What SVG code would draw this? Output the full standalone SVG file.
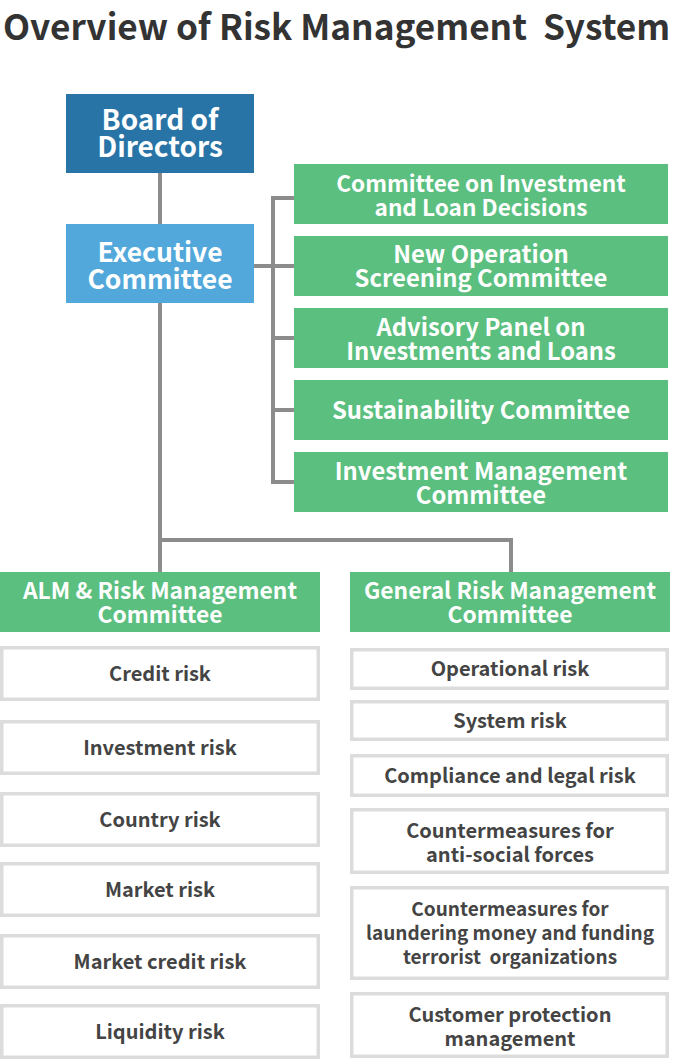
<svg xmlns="http://www.w3.org/2000/svg" width="674" height="1060" viewBox="0 0 674 1060">
<style>
text{font-family:"Noto Sans CJK JP","Source Sans Pro","Noto Sans",sans-serif;font-weight:700;text-anchor:middle}
.title{font-size:35.2px;fill:#333;text-anchor:start}
.bd{font-size:28px;fill:#fff}
.big{font-size:26.5px;fill:#fff}
.w{font-size:23.8px;fill:#fff}
.w1{font-size:22.6px;fill:#fff}
.w2{font-size:22.8px;fill:#fff}
.r{font-size:20px;fill:#444}
.r2{font-size:19px;fill:#444}
.green{fill:#5bbf7f}
.risk{fill:#fff;stroke:#dcdcdc;stroke-width:3.5}
.conn{fill:none;stroke:#8c8c8c;stroke-width:4}
</style>
<text class="title" x="3" y="40" xml:space="preserve">Overview of Risk Management  System</text>
<g id="connectors">
<path class="conn" d="M160 173V572M160 540H511V572"/>
<path class="conn" d="M254 266H294M294 198H273V482H294M273 338H294M273 410H294"/>
</g>
<g id="board"><rect x="66" y="94" width="188" height="79" fill="#2874a6"/><text class="bd" x="160" y="130">Board of</text><text class="bd" x="160" y="157">Directors</text></g>
<g id="exec"><rect x="66" y="224" width="188" height="79" fill="#52a8da"/><text class="big" x="160" y="262">Executive</text><text class="big" x="160" y="289">Committee</text></g>
<g id="c1"><rect class="green" x="294" y="164" width="374" height="60"/><text class="w1" x="481" y="192">Committee on Investment</text><text class="w1" x="481" y="216">and Loan Decisions</text></g>
<g id="c2"><rect class="green" x="294" y="236" width="374" height="60"/><text class="w" x="481" y="263">New Operation</text><text class="w" x="481" y="287">Screening Committee</text></g>
<g id="c3"><rect class="green" x="294" y="308" width="374" height="60"/><text class="w" x="481" y="336">Advisory Panel on</text><text class="w" x="481" y="360">Investments and Loans</text></g>
<g id="c4"><rect class="green" x="294" y="380" width="374" height="60"/><text class="w" x="481" y="419">Sustainability Committee</text></g>
<g id="c5"><rect class="green" x="294" y="452" width="374" height="60"/><text class="w" x="481" y="480">Investment Management</text><text class="w" x="481" y="504">Committee</text></g>
<g id="alm"><rect class="green" x="0" y="572" width="320" height="60"/><text class="w2" x="160" y="599">ALM &amp; Risk Management</text><text class="w2" x="160" y="623">Committee</text></g>
<g id="grm"><rect class="green" x="350" y="572" width="320" height="60"/><text class="w2" x="510" y="599">General Risk Management</text><text class="w2" x="510" y="623">Committee</text></g>
<g id="l1"><rect class="risk" x="1.75" y="647.75" width="316.5" height="51.5"/><text class="r" x="160" y="681">Credit risk</text></g>
<g id="l2"><rect class="risk" x="1.75" y="721.75" width="316.5" height="51.5"/><text class="r" x="160" y="755">Investment risk</text></g>
<g id="l3"><rect class="risk" x="1.75" y="793.75" width="316.5" height="51.5"/><text class="r" x="160" y="827">Country risk</text></g>
<g id="l4"><rect class="risk" x="1.75" y="863.75" width="316.5" height="51.5"/><text class="r" x="160" y="897">Market risk</text></g>
<g id="l5"><rect class="risk" x="1.75" y="935.75" width="316.5" height="51.5"/><text class="r" x="160" y="969">Market credit risk</text></g>
<g id="l6"><rect class="risk" x="1.75" y="1005.75" width="316.5" height="51.5"/><text class="r" x="160" y="1039">Liquidity risk</text></g>
<g id="r1"><rect class="risk" x="351.75" y="649.75" width="315.5" height="38.5"/><text class="r" x="510" y="676">Operational risk</text></g>
<g id="r2"><rect class="risk" x="351.75" y="701.75" width="315.5" height="37.5"/><text class="r" x="510" y="728">System risk</text></g>
<g id="r3"><rect class="risk" x="351.75" y="755.75" width="315.5" height="39.5"/><text class="r" x="510" y="783">Compliance and legal risk</text></g>
<g id="r4"><rect class="risk" x="351.75" y="809.75" width="315.5" height="62.5"/><text class="r" x="510" y="838">Countermeasures for</text><text class="r" x="510" y="862">anti-social forces</text></g>
<g id="r5"><rect class="risk" x="351.75" y="887.75" width="315.5" height="90.5"/><text class="r2" x="510" y="916">Countermeasures for</text><text class="r2" x="510" y="940">laundering money and funding</text><text class="r2" x="510" y="964" xml:space="preserve">terrorist  organizations</text></g>
<g id="r6"><rect class="risk" x="351.75" y="993.75" width="315.5" height="62.5"/><text class="r" x="510" y="1022">Customer protection</text><text class="r" x="510" y="1046">management</text></g>
</svg>
